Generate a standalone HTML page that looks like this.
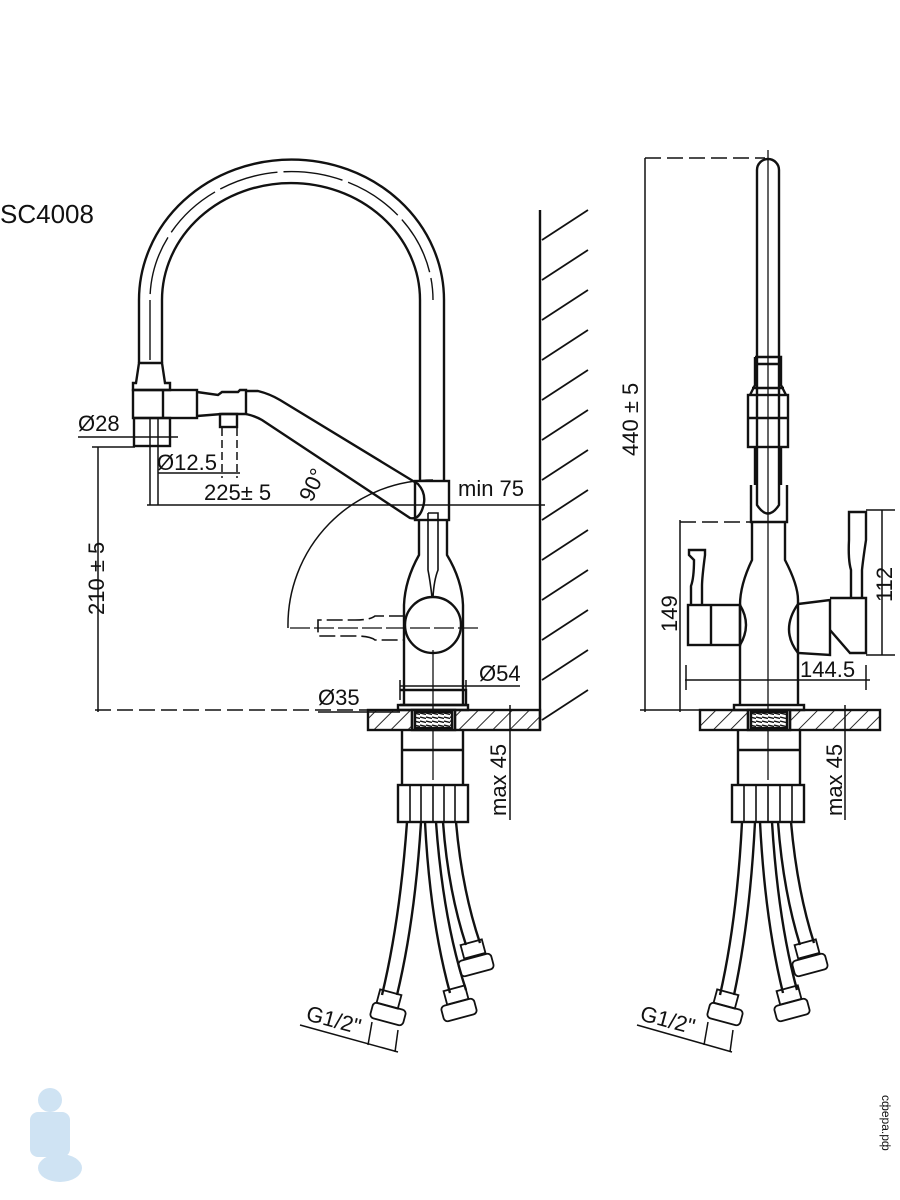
<!DOCTYPE html>
<html><head><meta charset="utf-8"><style>
html,body{margin:0;padding:0;background:#fff;width:900px;height:1200px;overflow:hidden}
svg{display:block}
text{font-family:"Liberation Sans",sans-serif;fill:#111}
</style></head><body>
<svg width="900" height="1200" viewBox="0 0 900 1200" xmlns="http://www.w3.org/2000/svg">
<defs>
<pattern id="h" width="12" height="12" patternUnits="userSpaceOnUse" patternTransform="rotate(45)">
<line x1="0" y1="0" x2="0" y2="12" stroke="#111" stroke-width="1.8"/>
</pattern>
<pattern id="thr" width="6" height="4" patternUnits="userSpaceOnUse">
<line x1="0" y1="1" x2="6" y2="2.5" stroke="#111" stroke-width="1.4"/>
</pattern>
</defs>
<g fill="none" stroke="#111" stroke-width="2.4">
<!-- LEFT VIEW -->
<path d="M139,363 L139,300 A152,140 0 0 1 444,300 L444,481"/>
<path d="M162,363 L162,300 A129,117 0 0 1 420,300 L420,481"/>
<path d="M150,360 L150,300 A141,128 0 0 1 433,300" stroke-width="1.4" stroke-dasharray="60,6"/>
<path d="M139,363 L162,363 L165,383 L170,383 L170,390 L133,390 L133,383 L136,383 Z"/>
<rect x="133" y="390" width="64" height="28"/>
<rect x="134" y="418" width="36" height="28"/>
<line x1="163" y1="390" x2="163" y2="418"/>
<path d="M197,392 L218,395 L222,392 L238,392 L240,390 L246,390 L246,414 L238,414 L222,414 L197,416"/>
<rect x="220" y="414" width="17" height="13"/>
<path d="M246,391 L258,391 Q270,394 280,400 L418,484 Q428,495 422,510 Q418,520 410,518 L262,420 Q255,416 246,414"/>
<rect x="415" y="481" width="34" height="39"/>
<path d="M419,520 L419,555 Q405,580 404,605 L404,705 M447,520 L447,555 Q462,580 463,605 L463,705"/>
<path d="M428,513 L438,513 L438,570 Q434,580 433,597 M428,513 L428,570 Q430,580 432,597" stroke-width="1.6"/>
<circle cx="433" cy="625" r="28"/>
<line x1="433" y1="650" x2="433" y2="780" stroke-width="1.3"/>
<path d="M400,690 L466,690 L466,705 L400,705"/>
<rect x="398" y="705" width="70" height="5"/>
<path d="M405,616 L375,616 Q370,620 355,620 L318,620 L318,636 L355,636 Q370,636 375,640 L405,640" stroke-dasharray="16,5" stroke-width="1.6"/>
<line x1="290" y1="628" x2="480" y2="628" stroke-width="1.3" stroke-dasharray="20,4"/>
<rect x="368" y="710" width="172" height="20" fill="url(#h)"/>
<rect x="412" y="710" width="43" height="20" fill="#fff"/>
<rect x="415" y="712" width="37" height="16" fill="url(#thr)"/>
<line x1="412" y1="710" x2="412" y2="730"/><line x1="455" y1="710" x2="455" y2="730"/>
<line x1="540" y1="210" x2="540" y2="730"/>
<g stroke-width="1.8">
<line x1="542" y1="240" x2="588" y2="210"/><line x1="542" y1="280" x2="588" y2="250"/><line x1="542" y1="320" x2="588" y2="290"/><line x1="542" y1="360" x2="588" y2="330"/><line x1="542" y1="400" x2="588" y2="370"/><line x1="542" y1="440" x2="588" y2="410"/><line x1="542" y1="480" x2="588" y2="450"/><line x1="542" y1="520" x2="588" y2="490"/><line x1="542" y1="560" x2="588" y2="530"/><line x1="542" y1="600" x2="588" y2="570"/><line x1="542" y1="640" x2="588" y2="610"/><line x1="542" y1="680" x2="588" y2="650"/><line x1="542" y1="720" x2="588" y2="690"/>
</g>
<path d="M402,730 L402,785 M463,730 L463,785 M402,750 L463,750"/>
<rect x="398" y="785" width="70" height="37"/>
<path d="M410,785v37 M421,785v37 M433,785v37 M444,785v37 M455,785v37" stroke-width="1.6"/>
<path d="M407,822 Q400,920 382,995 M421,822 Q415,920 397,995"/>
<path d="M425,822 Q430,920 450,993 M436,822 Q443,920 466,990"/>
<path d="M443,822 Q448,890 466,945 M456,822 Q462,890 480,943"/>
<g stroke-width="1.8">
<rect x="378" y="992" width="22" height="14" transform="rotate(15 389 999)"/>
<rect x="371" y="1006" width="34" height="16" rx="4" transform="rotate(15 388 1014)"/>
<rect x="445" y="988" width="22" height="14" transform="rotate(-15 456 995)"/>
<rect x="442" y="1002" width="34" height="16" rx="4" transform="rotate(-15 459 1010)"/>
<rect x="462" y="942" width="22" height="14" transform="rotate(-15 473 949)"/>
<rect x="459" y="957" width="34" height="16" rx="4" transform="rotate(-15 476 965)"/>
</g>
<g stroke-width="1.5">
<line x1="78" y1="437" x2="178" y2="437"/>
<line x1="158" y1="418" x2="158" y2="505"/>
<line x1="158" y1="473" x2="240" y2="473"/>
<line x1="222" y1="428" x2="222" y2="478" stroke-dasharray="8,4"/>
<line x1="237" y1="428" x2="237" y2="478" stroke-dasharray="8,4"/>
<line x1="147" y1="505" x2="545" y2="505"/>
<line x1="150" y1="418" x2="150" y2="505"/>
<path d="M433,480 A145,145 0 0 0 288,628"/>
<line x1="98" y1="447" x2="98" y2="712"/>
<line x1="92" y1="447" x2="135" y2="447"/>
<line x1="95" y1="710" x2="368" y2="710" stroke-dasharray="16,6"/>
<line x1="318" y1="712" x2="400" y2="712"/>
<line x1="400" y1="686" x2="520" y2="686"/>
<line x1="400" y1="680" x2="400" y2="700"/><line x1="466" y1="680" x2="466" y2="700"/>
<line x1="510" y1="705" x2="510" y2="820"/>
<line x1="300" y1="1025" x2="398" y2="1052"/>
<line x1="372" y1="1022" x2="368" y2="1045"/><line x1="398" y1="1030" x2="395" y2="1052"/>
</g>

<!-- RIGHT VIEW -->
<path d="M757,485 L757,170 A11,11 0 0 1 779,170 L779,485"/>
<line x1="768" y1="150" x2="768" y2="780" stroke-width="1.3"/>
<path d="M755,357 L781,357 L781,385 L786,395 M755,357 L755,385 L750,395 M755,364 L781,364 M752,388 L784,388"/>
<rect x="748" y="395" width="40" height="52"/>
<line x1="748" y1="418" x2="788" y2="418"/>
<path d="M755,447 L755,485 M781,447 L781,485"/>
<path d="M751,485 L751,522 L787,522 L787,485 M757,485 L757,505 Q768,522 779,505 L779,485"/>
<path d="M752,522 L752,560 Q740,585 740,605 L740,705 M785,522 L785,560 Q798,585 798,600 L798,705"/>
<path d="M740,605 Q752,625 740,645"/>
<rect x="688" y="605" width="52" height="40"/>
<line x1="711" y1="605" x2="711" y2="645"/>
<path d="M691,605 L691,586 Q694,578 694,560 L689,555 L689,550 L705,550 L705,555 Q702,578 702,586 L702,605"/>
<path d="M798,604 L830,600 L830,655 L798,653 Q780,630 798,604"/>
<path d="M830,598 L866,598 L866,653 L850,653 L830,630"/>
<path d="M851,598 L851,570 Q848,560 849,540 L849,512 L866,512 L866,540 Q863,560 862,570 L862,598"/>
<rect x="734" y="705" width="70" height="5"/>
<rect x="700" y="710" width="180" height="20" fill="url(#h)"/>
<rect x="748" y="710" width="42" height="20" fill="#fff"/>
<rect x="751" y="712" width="36" height="16" fill="url(#thr)"/>
<line x1="748" y1="710" x2="748" y2="730"/><line x1="790" y1="710" x2="790" y2="730"/>
<path d="M738,730 L738,785 M800,730 L800,785 M738,750 L800,750"/>
<rect x="732" y="785" width="72" height="37"/>
<path d="M744,785v37 M756,785v37 M768,785v37 M780,785v37 M792,785v37" stroke-width="1.6"/>
<path d="M742,822 Q737,920 720,995 M755,822 Q750,920 734,995"/>
<path d="M760,822 Q765,920 783,993 M772,822 Q778,920 797,990"/>
<path d="M778,822 Q783,890 800,945 M791,822 Q797,890 814,943"/>
<g stroke-width="1.8">
<rect x="715" y="992" width="22" height="14" transform="rotate(15 726 999)"/>
<rect x="708" y="1006" width="34" height="16" rx="4" transform="rotate(15 725 1014)"/>
<rect x="778" y="988" width="22" height="14" transform="rotate(-15 789 995)"/>
<rect x="775" y="1002" width="34" height="16" rx="4" transform="rotate(-15 792 1010)"/>
<rect x="796" y="942" width="22" height="14" transform="rotate(-15 807 949)"/>
<rect x="793" y="957" width="34" height="16" rx="4" transform="rotate(-15 810 965)"/>
</g>
<g stroke-width="1.5">
<line x1="645" y1="158" x2="645" y2="712"/>
<line x1="645" y1="158" x2="765" y2="158" stroke-dasharray="16,6"/>
<line x1="640" y1="710" x2="700" y2="710"/>
<line x1="680" y1="520" x2="680" y2="712"/>
<line x1="680" y1="522" x2="750" y2="522" stroke-dasharray="16,6"/>
<line x1="685" y1="680" x2="870" y2="680"/>
<line x1="686" y1="665" x2="686" y2="690"/><line x1="866" y1="665" x2="866" y2="690"/>
<line x1="882" y1="510" x2="882" y2="655"/>
<line x1="866" y1="510" x2="895" y2="510"/><line x1="866" y1="655" x2="895" y2="655"/>
<line x1="845" y1="705" x2="845" y2="820"/>
<line x1="637" y1="1025" x2="732" y2="1052"/>
<line x1="708" y1="1022" x2="704" y2="1045"/><line x1="733" y1="1030" x2="730" y2="1052"/>
</g>
</g>
<text x="0" y="223" font-size="26">SC4008</text>
<text x="78" y="431" font-size="22">Ø28</text>
<text x="157" y="470" font-size="22">Ø12.5</text>
<text x="204" y="500" font-size="22">225± 5</text>
<text x="458" y="496" font-size="22">min 75</text>
<text x="0" y="0" font-size="22" transform="translate(312,503) rotate(-65)">90°</text>
<text x="0" y="0" font-size="22" transform="translate(104,615) rotate(-90)">210 ± 5</text>
<text x="318" y="705" font-size="22">Ø35</text>
<text x="479" y="681" font-size="22">Ø54</text>
<text x="0" y="0" font-size="22" transform="translate(506,816) rotate(-90)">max 45</text>
<text x="0" y="0" font-size="22" transform="translate(305,1020) rotate(15)">G1/2"</text>
<text x="0" y="0" font-size="22" transform="translate(638,456) rotate(-90)">440 ± 5</text>
<text x="0" y="0" font-size="22" transform="translate(677,632) rotate(-90)">149</text>
<text x="0" y="0" font-size="22" transform="translate(892,602) rotate(-90)">112</text>
<text x="800" y="677" font-size="22">144.5</text>
<text x="0" y="0" font-size="22" transform="translate(842,816) rotate(-90)">max 45</text>
<text x="0" y="0" font-size="22" transform="translate(639,1020) rotate(15)">G1/2"</text>
<text x="0" y="0" font-size="12" fill="#9cc" transform="translate(882,1095) rotate(90)">сфера.рф</text>
<g fill="#cfe3f3"><circle cx="50" cy="1100" r="12"/><rect x="30" y="1112" width="40" height="45" rx="8"/><ellipse cx="60" cy="1168" rx="22" ry="14"/></g>
</svg>
</body></html>
